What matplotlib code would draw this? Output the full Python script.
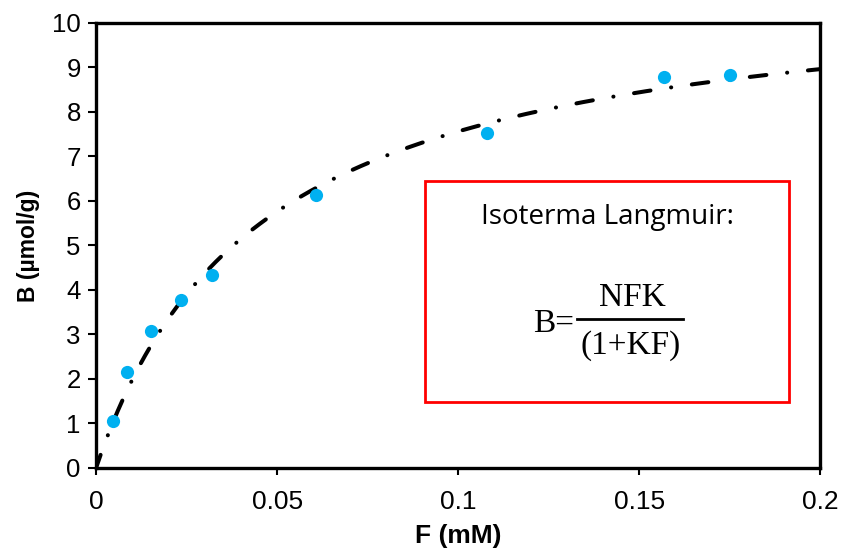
import numpy as np
import matplotlib
matplotlib.use("Agg")
import matplotlib.pyplot as plt
from matplotlib.patches import Rectangle
from matplotlib.lines import Line2D

# Data
F_obs = [0.0047, 0.0086, 0.0152, 0.0235, 0.0320, 0.0608, 0.1080, 0.1570, 0.1750]
B_obs = [1.06, 2.16, 3.08, 3.78, 4.34, 6.13, 7.53, 8.79, 8.83]
N_fit = 11.0
K_fit = 22.0
x_ticks = [0, 0.05, 0.1, 0.15, 0.2]
x_tick_labels = ["0", "0.05", "0.1", "0.15", "0.2"]
y_ticks = list(range(0, 11))

plt.rcParams['lines.scale_dashes'] = False
fig = plt.figure(figsize=(8.41, 5.55), dpi=100)
ax = fig.add_axes([0.1142, 0.1568, 0.861, 0.8018])

F_fit = np.linspace(0, 0.2, 400)
B_fit = N_fit * K_fit * F_fit / (1 + K_fit * F_fit)
ax.plot(F_fit, B_fit, color='black', lw=2.9, solid_capstyle='round',
        dash_capstyle='round', zorder=2,
        linestyle=(2, (12, 15, 0.1, 15)))
ax.plot(F_obs, B_obs, 'o', color='#00B0F0', markersize=9.5, markeredgewidth=0, zorder=3)

ax.set_xlim(0, 0.2)
ax.set_ylim(0, 10)
ax.set_xticks(x_ticks)
ax.set_xticklabels(x_tick_labels)
ax.set_yticks(y_ticks)
for s in ax.spines.values():
    s.set_linewidth(2.4)
    s.set_color('black')
ax.tick_params(axis='y', direction='out', length=6, width=1.5, labelsize=18.5, pad=5)
ax.tick_params(axis='x', direction='out', length=5, width=1.5, labelsize=19, pad=11)
for lab in ax.get_yticklabels() + ax.get_xticklabels():
    lab.set_fontfamily('Liberation Sans')
ax.set_xlabel('F (mM)', fontsize=19, fontweight='bold', family='Liberation Sans', labelpad=7)
ax.set_ylabel('B (µmol/g)', fontsize=16.5, fontweight='bold', family='Liberation Sans', labelpad=9)

# Annotation box
ax.add_patch(Rectangle((0.454, 0.148), 0.503, 0.497, transform=ax.transAxes,
                       fill=True, facecolor='white', edgecolor='#FF0000', lw=2.0, zorder=4))
ax.text(0.706, 0.564, 'Isoterma Langmuir:', transform=ax.transAxes, ha='center', va='center',
        fontsize=20, family='Open Sans', zorder=5)
serif = 'Liberation Serif'
ax.text(0.660, 0.325, 'B=', transform=ax.transAxes, ha='right', va='center',
        fontsize=24, family=serif, zorder=5)
ax.text(0.740, 0.383, 'NFK', transform=ax.transAxes, ha='center', va='center',
        fontsize=24, family=serif, zorder=5)
ax.add_line(Line2D([0.664, 0.811], [0.335, 0.335], transform=ax.transAxes,
                   color='black', lw=2.0, zorder=5))
ax.text(0.7376, 0.274, '(1+KF)', transform=ax.transAxes, ha='center', va='center',
        fontsize=24, family=serif, zorder=5)

fig.savefig('out.png', dpi=100)
